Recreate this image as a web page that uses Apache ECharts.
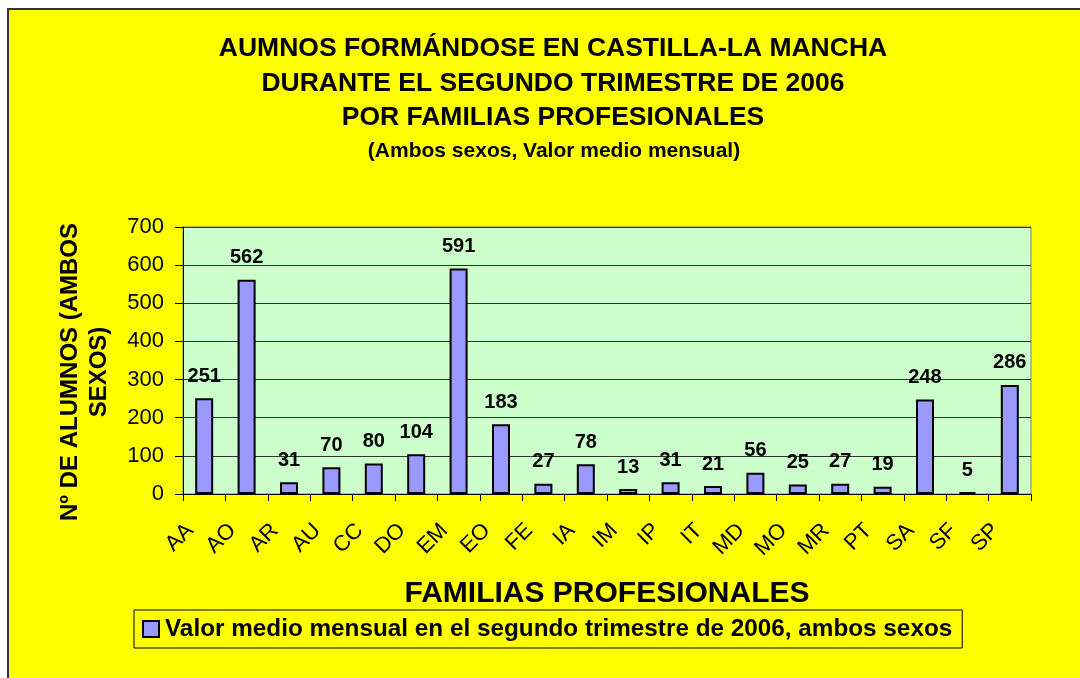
<!DOCTYPE html>
<html>
<head>
<meta charset="utf-8">
<script src="https://cdn.jsdelivr.net/npm/echarts@6/dist/echarts.min.js"></script>
<style>
  html, body { margin: 0; padding: 0; background: #fff; }
  #chart { width: 1080px; height: 678px; }
</style>
</head>
<body>
<div id="chart"></div>
<script>
// familias profesionales (eje X)
const familias = ['AA', 'AO', 'AR', 'AU', 'CC', 'DO', 'EM', 'EO', 'FE', 'IA',
  'IM', 'IP', 'IT', 'MD', 'MO', 'MR', 'PT', 'SA', 'SF', 'SP'];
// alumnos, valor medio mensual ambos sexos
const alumnos = [251, 562, 31, 70, 80, 104, 591, 183, 27, 78,
  13, 31, 21, 56, 25, 27, 19, 248, 5, 286];
// marcas del eje Y
const marcasY = [0, 100, 200, 300, 400, 500, 600, 700];

const titulo = [
  'AUMNOS FORMÁNDOSE EN CASTILLA-LA MANCHA',
  'DURANTE EL SEGUNDO TRIMESTRE DE 2006',
  'POR FAMILIAS PROFESIONALES'
];
const subtitulo = '(Ambos sexos, Valor medio mensual)';
const nombreSerie = 'Valor medio mensual en el segundo trimestre de 2006, ambos sexos';
const nombreEjeY = 'Nº DE ALUMNOS (AMBOS\nSEXOS)';
const nombreEjeX = 'FAMILIAS PROFESIONALES';

const fuente = "'Liberation Sans', Arial, sans-serif";

const chart = echarts.init(document.getElementById('chart'));

// lineas del titulo
const textosTitulo = titulo.map((t, i) => ({
  type: 'text',
  x: 553,
  y: 49 + i * 34.5,
  z: 100,
  style: {
    text: t,
    fill: '#000',
    font: 'bold 26.5px ' + fuente,
    textAlign: 'center',
    textVerticalAlign: 'middle'
  }
}));

const option = {
  backgroundColor: '#fff',
  animation: false,
  graphic: [
    {
      type: 'rect',
      z: -10,
      shape: { x: 8, y: 9, width: 1200, height: 800 },
      style: { fill: '#FFFF00', stroke: '#333', lineWidth: 2 }
    },
    ...textosTitulo,
    {
      type: 'text',
      x: 554,
      y: 151,
      z: 100,
      style: {
        text: subtitulo,
        fill: '#000',
        font: 'bold 21px ' + fuente,
        textAlign: 'center',
        textVerticalAlign: 'middle'
      }
    },
    {
      type: 'text',
      x: 85,
      y: 372,
      rotation: Math.PI / 2,
      z: 100,
      style: {
        text: nombreEjeY,
        fill: '#000',
        font: 'bold 24px ' + fuente,
        lineHeight: 29,
        textAlign: 'center',
        textVerticalAlign: 'middle'
      }
    }
  ],
  legend: {
    data: [nombreSerie],
    left: 134,
    top: 610,
    padding: [7, 10, 7, 8],
    borderColor: '#000',
    borderWidth: 1,
    icon: 'rect',
    itemWidth: 16,
    itemHeight: 16,
    itemGap: 5,
    selectedMode: false,
    itemStyle: { borderColor: '#000', borderWidth: 2 },
    textStyle: { fontFamily: fuente, fontWeight: 'bold', fontSize: 24.3, color: '#000', padding: [0, 0, 0, 1] }
  },
  grid: {
    left: 183,
    right: 49,
    top: 227,
    bottom: 184,
    show: true,
    backgroundColor: '#CCFFCC',
    borderColor: '#808080',
    borderWidth: 1,
    outerBoundsMode: 'none'
  },
  xAxis: {
    type: 'category',
    data: familias,
    boundaryGap: true,
    axisLine: { lineStyle: { color: '#000', width: 1 } },
    axisTick: { show: true, length: 7, lineStyle: { color: '#000' } },
    axisLabel: {
      rotate: 45,
      interval: 0,
      margin: 19,
      padding: [0, 20, 0, 0],
      fontSize: 22,
      color: '#000',
      fontFamily: fuente
    },
    name: nombreEjeX,
    nameLocation: 'middle',
    nameGap: 85,
    nameTextStyle: { fontSize: 30, fontWeight: 'bold', color: '#000', fontFamily: fuente }
  },
  yAxis: {
    type: 'value',
    min: marcasY[0],
    max: marcasY[marcasY.length - 1],
    interval: marcasY[1] - marcasY[0],
    axisLine: { show: true, lineStyle: { color: '#000', width: 1 } },
    axisTick: { show: true, length: 8, lineStyle: { color: '#000' } },
    axisLabel: { fontSize: 22, color: '#000', margin: 19, fontFamily: fuente },
    splitLine: { lineStyle: { color: '#333', width: 1 } }
  },
  series: [
    {
      name: nombreSerie,
      type: 'bar',
      data: alumnos,
      barWidth: 18,
      itemStyle: { color: '#9999FF', borderColor: '#000', borderWidth: 2 },
      label: {
        show: true,
        position: 'top',
        distance: 12,
        fontSize: 20,
        fontWeight: 'bold',
        color: '#000',
        fontFamily: fuente
      }
    }
  ]
};

chart.setOption(option);
</script>
</body>
</html>
